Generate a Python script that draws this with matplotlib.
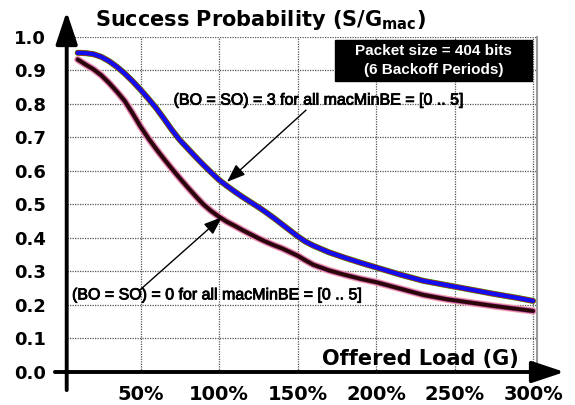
import matplotlib
matplotlib.use("Agg")
import matplotlib.pyplot as plt
from matplotlib.patches import Rectangle
import matplotlib.patheffects as pe

plt.rcParams["mathtext.fontset"] = "dejavusans"

# ---- data ----
load_pct = [10, 15, 20, 25, 30, 35, 40, 45, 50, 55, 60, 65, 70, 75, 80, 85, 90, 95,
            100, 105, 110, 115, 120, 125, 130, 135, 140, 145, 150, 155, 160, 170,
            180, 190, 200, 215, 230, 245, 260, 275, 290, 300]
success_bo3 = [0.952, 0.951, 0.948, 0.940, 0.927, 0.910, 0.890, 0.867, 0.842, 0.815,
               0.787, 0.755, 0.722, 0.692, 0.667, 0.642, 0.618, 0.595, 0.573, 0.555,
               0.538, 0.522, 0.507, 0.492, 0.476, 0.459, 0.441, 0.423, 0.405, 0.389,
               0.377, 0.357, 0.341, 0.326, 0.312, 0.291, 0.272, 0.259, 0.246, 0.233,
               0.221, 0.212]
success_bo0 = [0.932, 0.917, 0.903, 0.885, 0.862, 0.836, 0.808, 0.771, 0.732, 0.697,
               0.665, 0.635, 0.606, 0.578, 0.551, 0.525, 0.500, 0.480, 0.463, 0.448,
               0.436, 0.423, 0.411, 0.399, 0.388, 0.378, 0.369, 0.358, 0.347, 0.333,
               0.320, 0.303, 0.290, 0.278, 0.268, 0.249, 0.230, 0.217, 0.207, 0.197,
               0.188, 0.182]
x_ticks = [50, 100, 150, 200, 250, 300]
x_tick_labels = ["50%", "100%", "150%", "200%", "250%", "300%"]
y_ticks = [0.0, 0.1, 0.2, 0.3, 0.4, 0.5, 0.6, 0.7, 0.8, 0.9, 1.0]
y_tick_labels = ["0.0", "0.1", "0.2", "0.3", "0.4", "0.5", "0.6", "0.7", "0.8", "0.9", "1.0"]

W, H = 575, 405
fig = plt.figure(figsize=(W / 100, H / 100), dpi=100)
fig.patch.set_facecolor("white")

# axes geometry (pixels)
x0px, x1px = 66.7, 537.0
y0px, y1px = 372.0, 36.7
ax = fig.add_axes([x0px / W, 1 - y0px / H, (x1px - x0px) / W, (y0px - y1px) / H])
ax.set_xlim(3, 302.5)
ax.set_ylim(0, 1.0)

for s in ["left", "bottom", "top"]:
    ax.spines[s].set_visible(False)
ax.spines["right"].set_color("#9a9a9a")
ax.spines["right"].set_linewidth(1.5)

ax.set_xticks(x_ticks)
ax.set_xticklabels(x_tick_labels)
ax.set_yticks(y_ticks)
ax.set_yticklabels(y_tick_labels)
ax.tick_params(axis="both", length=0)
ax.tick_params(axis="x", pad=9, labelsize=14)
ax.tick_params(axis="y", pad=15, labelsize=13)
for lab in ax.get_xticklabels() + ax.get_yticklabels():
    lab.set_fontweight("bold")
    lab.set_family("DejaVu Sans")

ax.grid(True, linestyle=(0, (1, 1)), color="#555555", linewidth=0.9)
ax.set_axisbelow(True)

# curves: BO=SO=3 group (green / red / blue overlapping)
ax.plot(load_pct, success_bo3, color="#20c020", lw=4.4, solid_capstyle="round",
        solid_joinstyle="round", zorder=3)
ax.plot(load_pct, success_bo3, color="#d01010", lw=3.8, solid_capstyle="round",
        solid_joinstyle="round", zorder=3)
ax.plot(load_pct, success_bo3, color="#1010ee", lw=3.0, solid_capstyle="round",
        solid_joinstyle="round", zorder=4)
# BO=SO=0 group (pink / magenta / dark brown)
ax.plot(load_pct, success_bo0, color="#f0a0a8", lw=5.2, solid_capstyle="round",
        solid_joinstyle="round", zorder=3)
ax.plot(load_pct, success_bo0, color="#b040b0", lw=3.6, solid_capstyle="round",
        solid_joinstyle="round", zorder=3)
ax.plot(load_pct, success_bo0, color="#2a0606", lw=2.8, solid_capstyle="round",
        solid_joinstyle="round", zorder=4)

# axis arrows
ax.annotate("", xy=(320, 0), xytext=(-4.5, 0), xycoords="data", annotation_clip=False,
            arrowprops=dict(arrowstyle="-|>,head_length=0.9,head_width=0.3", lw=2.8,
                            color="black", mutation_scale=22, shrinkA=0, shrinkB=0), zorder=6)
ax.annotate("", xy=(3, 1.075), xytext=(3, -0.054), xycoords="data", annotation_clip=False,
            arrowprops=dict(arrowstyle="-|>,head_length=0.9,head_width=0.3", lw=2.8,
                            color="black", mutation_scale=22, shrinkA=0, shrinkB=0), zorder=6)

# annotation arrows + texts
ax.annotate("", xy=(105.1, 0.567), xytext=(155.4, 0.781), annotation_clip=False,
            arrowprops=dict(arrowstyle="-|>,head_length=0.8,head_width=0.3", lw=1.0,
                            color="black", mutation_scale=14, shrinkA=0, shrinkB=0), zorder=7)
ax.annotate("", xy=(101.9, 0.462), xytext=(49.7, 0.245), annotation_clip=False,
            arrowprops=dict(arrowstyle="-|>,head_length=0.8,head_width=0.3", lw=1.0,
                            color="black", mutation_scale=14, shrinkA=0, shrinkB=0), zorder=7)
bold_fx = [pe.withStroke(linewidth=0.6, foreground="black")]
ax.text(163.7, 0.811, "(BO = SO) = 3 for all macMinBE = [0 .. 5]", ha="center", va="center",
        fontsize=11.5, family="Liberation Sans", zorder=8, path_effects=bold_fx)
ax.text(99.0, 0.230, "(BO = SO) = 0 for all macMinBE = [0 .. 5]", ha="center", va="center",
        fontsize=11.5, family="Liberation Sans", zorder=8, path_effects=bold_fx)

# packet size box
ax.add_patch(Rectangle((173.9, 0.868), 299.4 - 173.9, 0.990 - 0.868, facecolor="black",
                       edgecolor="black", zorder=8, clip_on=False))
ax.text(236.6, 0.958, "Packet size = 404 bits", ha="center", va="center", color="white",
        fontsize=11, fontweight="bold", family="Liberation Sans", zorder=9)
ax.text(236.6, 0.902, "(6 Backoff Periods)", ha="center", va="center", color="white",
        fontsize=11, fontweight="bold", family="Liberation Sans", zorder=9)

# titles
fig.text(260 / W, 1 - 26.5 / H, r"Success Probability (S/G$_{\mathbf{mac}}$)", ha="center",
         va="baseline", fontsize=15, fontweight="bold", family="DejaVu Sans")
fig.text(420 / W, 1 - 365 / H, "Offered Load (G)", ha="center", va="baseline",
         fontsize=15, fontweight="bold", family="DejaVu Sans")

fig.savefig("out.png", dpi=100, facecolor="white")
